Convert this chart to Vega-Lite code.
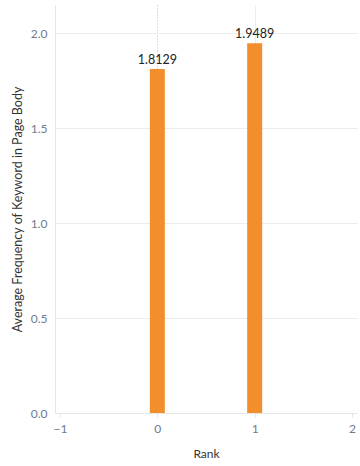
{
  "$schema": "https://vega.github.io/schema/vega-lite/v6.json",
  "width": 302,
  "height": 408,
  "autosize": "none",
  "padding": {"left": 55, "top": 5, "right": 3, "bottom": 53},
  "background": "white",
  "config": {
    "view": {"stroke": null},
    "font": "Lato"
  },
  "data": {
    "values": [
      {"Rank": 0, "Avg": 1.8129},
      {"Rank": 1, "Avg": 1.9489}
    ]
  },
  "encoding": {
    "x": {
      "field": "Rank",
      "type": "quantitative",
      "scale": {"domain": [-1, 2], "nice": false, "zero": false},
      "axis": {
        "values": [-1, 0, 1, 2],
        "format": "d",
        "title": "Rank",
        "titleFont": "Lato",
        "titleFontSize": 12,
        "titleFontWeight": "normal",
        "titleColor": "#333333",
        "titlePadding": 14,
        "labelFont": "Lato",
        "labelFontSize": 12,
        "labelColor": "#6e7b8e",
        "labelFlush": true,
        "labelPadding": 6,
        "tickColor": "#e6e6e6",
        "tickSize": 4,
        "domainColor": "#e6e6e6",
        "grid": true,
        "gridColor": {"condition": {"test": "datum.value === 0", "value": "#bbbbbb"}, "value": "#ececec"},
        "gridDash": {"condition": {"test": "datum.value === 0", "value": [1, 2]}, "value": []},
        "gridOpacity": {"condition": {"test": "datum.value === 2 || datum.value === -1", "value": 0}, "value": 1}
      }
    },
    "y": {
      "field": "Avg",
      "type": "quantitative",
      "scale": {"domain": [0, 2.15], "nice": false},
      "axis": {
        "values": [0, 0.5, 1, 1.5, 2],
        "format": ".1f",
        "title": "Average Frequency of Keyword in Page Body",
        "titleFont": "Lato",
        "titleFontSize": 12.5,
        "titleFontWeight": "normal",
        "titleColor": "#333333",
        "titleAngle": -90,
        "titleX": -38,
        "titleY": 204,
        "titleAlign": "center",
        "titleBaseline": "middle",
        "labelFont": "Lato",
        "labelFontSize": 12,
        "labelColor": "#6e7b8e",
        "labelPadding": 8,
        "ticks": false,
        "domainColor": "#e6e6e6",
        "gridColor": "#ececec"
      }
    }
  },
  "layer": [
    {
      "mark": {"type": "bar", "width": 15, "color": "#F28E2B"}
    },
    {
      "mark": {"type": "text", "dy": -9, "font": "Lato", "fontSize": 12.5, "color": "#222222"},
      "encoding": {
        "text": {"field": "Avg", "type": "quantitative", "format": ".4f"}
      }
    }
  ]
}
